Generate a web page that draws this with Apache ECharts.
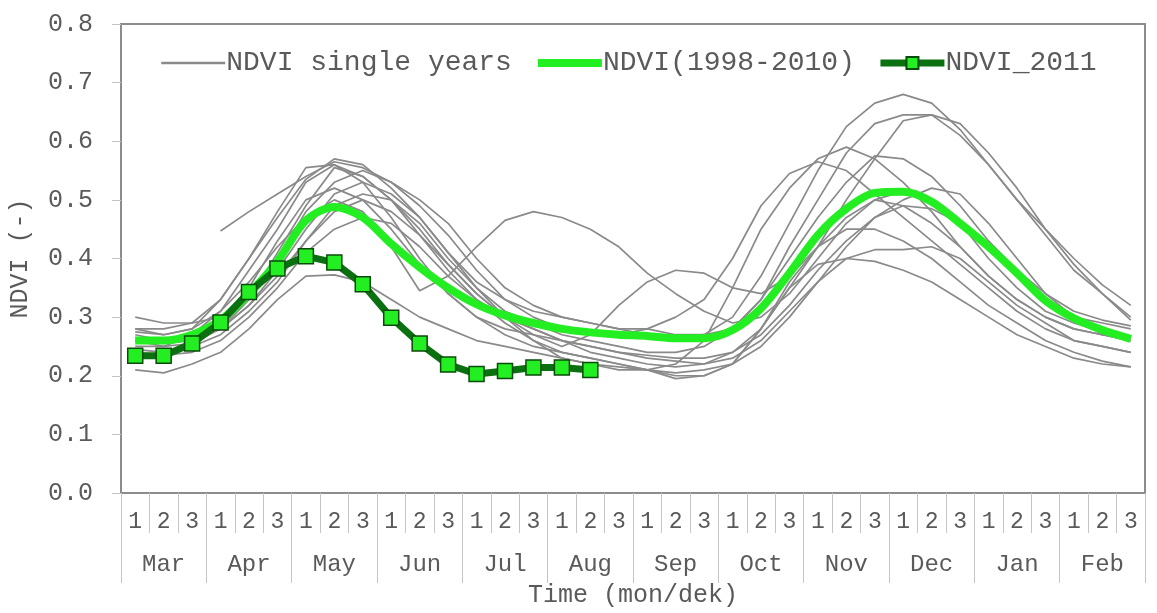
<!DOCTYPE html>
<html>
<head>
<meta charset="utf-8">
<script src="https://cdn.jsdelivr.net/npm/echarts@6/dist/echarts.min.js"></script>
<style>
  html, body { margin: 0; padding: 0; background: #fff; }
  #chart { width: 1157px; height: 613px; }
</style>
</head>
<body>
<div id="chart"></div>
<script>
// time axis: 36 dekads, March to February
var months = ['Mar', 'Apr', 'May', 'Jun', 'Jul', 'Aug', 'Sep', 'Oct', 'Nov', 'Dec', 'Jan', 'Feb']
var deks = []
for (var m = 0; m < months.length; m++) deks.push('1', '2', '3')

var yTicks = ['0.0', '0.1', '0.2', '0.3', '0.4', '0.5', '0.6', '0.7', '0.8']

// NDVI single years (approximate)
var ndvi1998 = [null, null, null, 0.447, 0.48, 0.51, 0.54, 0.565, 0.555, 0.53, 0.50, 0.46, 0.40, 0.35, 0.32, 0.30, 0.29, 0.28, 0.28, 0.27, 0.27, 0.28, 0.33, 0.42, 0.50, 0.58, 0.63, 0.645, 0.645, 0.61, 0.56, 0.50, 0.44, 0.38, 0.34, 0.30]
var ndvi1999 = [0.275, 0.27, 0.28, 0.33, 0.40, 0.47, 0.535, 0.57, 0.56, 0.52, 0.47, 0.41, 0.36, 0.33, 0.31, 0.30, 0.29, 0.28, 0.27, 0.265, 0.27, 0.30, 0.37, 0.46, 0.55, 0.625, 0.665, 0.68, 0.665, 0.62, 0.56, 0.50, 0.45, 0.40, 0.355, 0.32]
var ndvi2000 = [0.28, 0.27, 0.28, 0.31, 0.36, 0.42, 0.47, 0.50, 0.48, 0.42, 0.345, 0.37, 0.42, 0.465, 0.48, 0.47, 0.45, 0.42, 0.375, 0.34, 0.31, 0.29, 0.30, 0.34, 0.40, 0.46, 0.50, 0.515, 0.50, 0.46, 0.40, 0.35, 0.31, 0.29, 0.275, 0.265]
var ndvi2001 = [0.26, 0.255, 0.26, 0.28, 0.32, 0.37, 0.43, 0.48, 0.50, 0.48, 0.44, 0.39, 0.34, 0.30, 0.27, 0.25, 0.27, 0.32, 0.36, 0.38, 0.375, 0.35, 0.34, 0.37, 0.42, 0.47, 0.50, 0.49, 0.46, 0.42, 0.37, 0.33, 0.30, 0.28, 0.27, 0.26]
var ndvi2002 = [0.30, 0.29, 0.29, 0.30, 0.34, 0.40, 0.48, 0.53, 0.55, 0.53, 0.49, 0.44, 0.38, 0.33, 0.30, 0.28, 0.27, 0.27, 0.28, 0.30, 0.33, 0.40, 0.49, 0.545, 0.565, 0.55, 0.51, 0.47, 0.43, 0.39, 0.35, 0.31, 0.28, 0.26, 0.25, 0.24]
var ndvi2003 = [0.25, 0.25, 0.27, 0.31, 0.38, 0.45, 0.53, 0.56, 0.54, 0.50, 0.45, 0.39, 0.34, 0.30, 0.28, 0.26, 0.24, 0.23, 0.22, 0.215, 0.22, 0.24, 0.28, 0.35, 0.42, 0.50, 0.57, 0.635, 0.645, 0.63, 0.58, 0.52, 0.45, 0.39, 0.34, 0.295]
var ndvi2004 = [0.27, 0.26, 0.26, 0.28, 0.32, 0.38, 0.45, 0.51, 0.53, 0.51, 0.47, 0.41, 0.35, 0.30, 0.26, 0.23, 0.22, 0.21, 0.21, 0.22, 0.26, 0.35, 0.45, 0.52, 0.57, 0.59, 0.57, 0.53, 0.48, 0.42, 0.37, 0.33, 0.30, 0.28, 0.27, 0.265]
var ndvi2005 = [0.245, 0.24, 0.25, 0.27, 0.31, 0.36, 0.43, 0.49, 0.51, 0.50, 0.46, 0.40, 0.35, 0.31, 0.29, 0.27, 0.26, 0.25, 0.24, 0.24, 0.25, 0.28, 0.33, 0.40, 0.47, 0.53, 0.575, 0.57, 0.54, 0.49, 0.43, 0.38, 0.34, 0.31, 0.295, 0.285]
var ndvi2006 = [0.21, 0.205, 0.22, 0.24, 0.28, 0.33, 0.37, 0.372, 0.36, 0.33, 0.30, 0.28, 0.26, 0.25, 0.24, 0.23, 0.22, 0.215, 0.21, 0.205, 0.21, 0.22, 0.25, 0.30, 0.36, 0.42, 0.47, 0.50, 0.52, 0.51, 0.46, 0.40, 0.34, 0.30, 0.27, 0.26]
var ndvi2007 = [0.265, 0.26, 0.265, 0.29, 0.35, 0.43, 0.50, 0.52, 0.50, 0.45, 0.39, 0.34, 0.30, 0.28, 0.27, 0.26, 0.25, 0.24, 0.235, 0.23, 0.23, 0.24, 0.27, 0.32, 0.38, 0.43, 0.47, 0.49, 0.485, 0.46, 0.42, 0.37, 0.33, 0.30, 0.29, 0.28]
var ndvi2008 = [0.26, 0.25, 0.255, 0.28, 0.33, 0.41, 0.49, 0.555, 0.54, 0.50, 0.44, 0.38, 0.33, 0.29, 0.26, 0.24, 0.23, 0.22, 0.21, 0.20, 0.20, 0.22, 0.28, 0.36, 0.42, 0.45, 0.45, 0.43, 0.40, 0.36, 0.32, 0.29, 0.26, 0.24, 0.225, 0.215]
var ndvi2009 = [0.24, 0.235, 0.24, 0.26, 0.30, 0.35, 0.41, 0.45, 0.47, 0.46, 0.42, 0.37, 0.33, 0.30, 0.28, 0.26, 0.25, 0.24, 0.23, 0.225, 0.22, 0.23, 0.26, 0.31, 0.36, 0.40, 0.415, 0.415, 0.42, 0.40, 0.36, 0.32, 0.29, 0.26, 0.25, 0.24]
var ndvi2010 = [0.28, 0.28, 0.29, 0.33, 0.40, 0.48, 0.555, 0.56, 0.53, 0.47, 0.40, 0.34, 0.30, 0.27, 0.25, 0.24, 0.23, 0.22, 0.21, 0.195, 0.20, 0.22, 0.28, 0.35, 0.39, 0.40, 0.395, 0.38, 0.36, 0.33, 0.30, 0.27, 0.25, 0.23, 0.22, 0.215]

// mean 1998-2010
var ndviMean = [0.26, 0.26, 0.27, 0.295, 0.34, 0.395, 0.465, 0.488, 0.47, 0.425, 0.385, 0.35, 0.322, 0.303, 0.29, 0.28, 0.274, 0.27, 0.268, 0.264, 0.264, 0.278, 0.315, 0.375, 0.44, 0.485, 0.512, 0.514, 0.497, 0.46, 0.42, 0.375, 0.328, 0.298, 0.278, 0.263]

// 2011 (Mar 1 .. Aug 2)
var ndvi2011 = [0.234, 0.234, 0.255, 0.291, 0.343, 0.383, 0.404, 0.393, 0.356, 0.299, 0.255, 0.219, 0.203, 0.208, 0.214, 0.214, 0.210]

var singleYears = [ndvi1998, ndvi1999, ndvi2000, ndvi2001, ndvi2002, ndvi2003, ndvi2004,
                   ndvi2005, ndvi2006, ndvi2007, ndvi2008, ndvi2009, ndvi2010]

var FONT = 'Liberation Mono'
var TXT = '#5a5a5a'
var TICK = '#c4c4c4'

var series = []
for (var i = 0; i < singleYears.length; i++) {
    series.push({
        name: 'NDVI single years',
        type: 'line',
        data: singleYears[i],
        symbol: 'none',
        connectNulls: false,
        lineStyle: { color: '#8a8a8a', width: 1.7 },
        itemStyle: { color: '#8a8a8a' },
        z: 2
    })
}
series.push({
    name: 'NDVI(1998-2010)',
    type: 'line',
    data: ndviMean,
    symbol: 'none',
    smooth: 0.3,
    lineStyle: { color: '#22ee22', width: 8 },
    itemStyle: { color: '#22ee22' },
    z: 3
})
series.push({
    name: 'NDVI_2011',
    type: 'line',
    data: ndvi2011,
    symbol: 'rect',
    symbolSize: 15,
    showAllSymbol: true,
    lineStyle: { color: '#0a7010', width: 7 },
    itemStyle: { color: '#22ee22', borderColor: '#0a4a0a', borderWidth: 1.5 },
    z: 4
})

var chart = echarts.init(document.getElementById('chart'))
var option = {
    animation: false,
    backgroundColor: '#fff',
    textStyle: { fontFamily: FONT },
    grid: {
        left: 119, right: 12, top: 24, bottom: 116,
        show: true, borderColor: '#8c8c8c', borderWidth: 2
    },
    legend: {
        data: [
            { name: 'NDVI single years', itemStyle: { opacity: 0 }, lineStyle: { width: 2.5, color: '#8a8a8a' } },
            { name: 'NDVI(1998-2010)', itemStyle: { opacity: 0 }, lineStyle: { width: 8, color: '#22ee22' } },
            { name: 'NDVI_2011', lineStyle: { width: 7, color: '#0a7010' } }
        ],
        left: 155, top: 44,
        itemWidth: 64, itemHeight: 15, itemGap: 22,
        textStyle: { fontFamily: FONT, fontSize: 28, color: TXT, padding: [0, 0, 0, -4] }
    },
    xAxis: [
        {
            type: 'category',
            data: deks,
            boundaryGap: true,
            axisLine: { lineStyle: { color: '#8c8c8c', width: 2 } },
            axisTick: { show: true, interval: 0, length: 40, lineStyle: { color: TICK, width: 1 } },
            axisLabel: { interval: 0, margin: 17, fontSize: 23, color: TXT, fontFamily: FONT },
            splitLine: { show: false }
        },
        {
            type: 'category',
            data: months,
            position: 'bottom',
            boundaryGap: true,
            axisLine: { show: false },
            axisTick: { show: true, interval: 0, length: 90, lineStyle: { color: TICK, width: 1 } },
            axisLabel: { interval: 0, margin: 60, fontSize: 24, color: TXT, fontFamily: FONT },
            splitLine: { show: false },
            name: 'Time (mon/dek)',
            nameLocation: 'middle',
            nameGap: 90,
            nameTextStyle: { fontSize: 25, color: TXT, fontFamily: FONT }
        }
    ],
    yAxis: {
        type: 'value',
        min: 0, max: 0.8, interval: 0.1,
        axisLine: { show: true, lineStyle: { color: '#8c8c8c', width: 2 } },
        axisTick: { show: true, length: 9, lineStyle: { color: TICK, width: 1 } },
        axisLabel: {
            margin: 28, fontSize: 25, color: TXT, fontFamily: FONT,
            formatter: function (v) { return yTicks[Math.round(v * 10)] }
        },
        splitLine: { show: false },
        name: 'NDVI (-)',
        nameLocation: 'middle',
        nameGap: 88,
        nameTextStyle: { fontSize: 25, color: TXT, fontFamily: FONT }
    },
    series: series
}
chart.setOption(option)
</script>
</body>
</html>
